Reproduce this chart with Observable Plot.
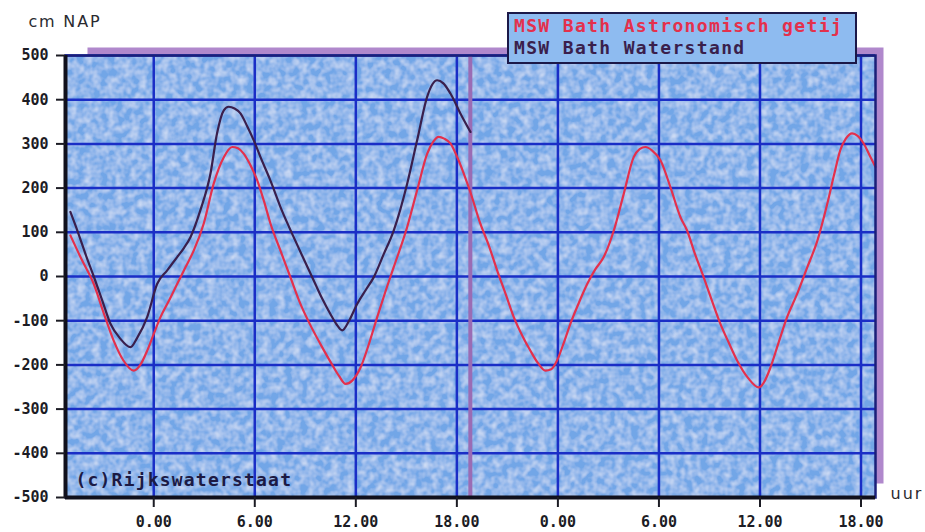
<!DOCTYPE html>
<html>
<head>
<meta charset="utf-8">
<script src="https://cdn.jsdelivr.net/npm/d3@7"></script>
<script src="https://cdn.jsdelivr.net/npm/@observablehq/plot@0.6"></script>
<style>
  body { margin: 0; background: #ffffff; }
  #wrap { position: relative; width: 925px; height: 532px; }
  #legend {
    position: absolute; left: 507px; top: 12px; width: 341px; height: 47px;
    background: #8ebbf0; border: 2px solid #1b1848;
    font: bold 18px "DejaVu Sans Mono", monospace; letter-spacing: 1.35px;
    line-height: 22px; padding: 1px 0 0 5px; box-sizing: content-box;
  }
  #legend .a { color: #e4304c; }
  #legend .w { color: #3a1f4c; }
</style>
</head>
<body>
<div id="wrap"></div>
<script>
// Tick positions (hours since first midnight) and labels
const xTicks = [0, 6, 12, 18, 24, 30, 36, 42];
const xTickLabels = ["0.00", "6.00", "12.00", "18.00", "0.00", "6.00", "12.00", "18.00"];
const yTicks = [-500, -400, -300, -200, -100, 0, 100, 200, 300, 400, 500];
const xDomain = [-5.24, 42.86];
const nowHour = 18.8;

const seriesNames = ["MSW Bath Astronomisch getij", "MSW Bath Waterstand"];

// Astronomical tide (cm NAP)
const astroHours = [-4.95,-4.3,-3.56,-2.95,-2.38,-1.8,-1.19,-0.8,-0.39,0.0,0.4,0.9,1.39,1.9,2.38,2.97,3.56,4.16,4.66,5.0,5.34,5.7,6.14,6.55,6.93,7.52,8.1,8.71,9.3,9.9,10.6,11.0,11.39,11.8,12.28,12.8,13.27,13.75,14.25,15.05,15.64,16.24,16.6,16.92,17.25,17.62,18.0,18.41,18.81,19.39,19.9,20.39,20.9,21.38,21.9,22.37,22.8,23.26,23.6,23.95,24.35,24.74,25.24,25.74,26.2,26.72,27.32,27.91,28.5,28.85,29.2,29.6,30.09,30.7,31.28,31.67,32.15,32.66,33.15,33.65,34.15,34.64,35.3,35.93,36.3,36.62,37.1,37.61,38.2,38.8,39.4,40.0,40.4,40.77,41.1,41.47,41.8,42.16,42.5,42.86];
const astroValues = [93,40,-17,-85,-145,-190,-213,-200,-168,-130,-92,-55,-17,22,59,120,210,270,293,290,278,255,218,170,120,59,0,-62,-110,-153,-200,-225,-243,-235,-206,-150,-92,-35,21,112,195,278,305,316,312,301,272,233,190,120,70,14,-40,-92,-135,-168,-195,-213,-210,-190,-150,-107,-60,-17,15,44,104,187,270,288,293,285,263,200,134,104,50,-2,-55,-107,-150,-190,-230,-251,-235,-206,-150,-92,-40,20,80,165,230,286,312,324,318,301,275,248];

// Measured water level (cm NAP)
const waterHours = [-4.95,-4.5,-4.0,-3.56,-3.05,-2.57,-2.0,-1.38,-1.0,-0.39,0.2,0.8,1.39,1.8,2.18,2.77,3.37,3.76,4.16,4.45,4.8,5.15,5.55,5.94,6.34,6.93,7.6,8.31,8.9,9.5,10.0,10.49,10.85,11.19,11.6,12.08,12.6,13.06,13.65,14.25,15.05,15.64,16.24,16.55,16.83,17.2,17.62,18.21,18.81];
const waterValues = [146,100,45,0,-55,-107,-140,-160,-140,-92,-17,14,44,65,89,150,233,324,376,384,380,369,340,308,270,217,150,89,40,-9,-50,-85,-108,-122,-100,-62,-30,-2,50,104,210,308,407,435,444,437,414,369,327];

const astro = astroHours.map((h, i) => ({hour: h, value: astroValues[i]}));
const water = waterHours.map((h, i) => ({hour: h, value: waterValues[i]}));

const gridColor = "#1a2ec6";

const plot = Plot.plot({
  width: 925,
  height: 532,
  marginLeft: 65,
  marginRight: 50,
  marginTop: 55,
  marginBottom: 35,
  x: {domain: xDomain},
  y: {domain: [-500, 500]},
  style: {fontFamily: "'DejaVu Sans Mono', monospace", fontWeight: "bold", fontSize: "15px", color: "#1c1c24", background: "transparent"},
  marks: [
    // shadow behind the plotting area
    Plot.frame({fill: "#b088cc", dx: 8, dy: -8, insetLeft: 14, insetBottom: 6}),
    Plot.frame({fill: "#72a6e7", ariaLabel: "bg"}),
    Plot.gridX(xTicks, {stroke: gridColor, strokeOpacity: 1, strokeWidth: 2.5}),
    Plot.gridY(yTicks, {stroke: gridColor, strokeOpacity: 1, strokeWidth: 2.5}),
    Plot.ruleX([nowHour], {stroke: "#9a6cb4", strokeWidth: 4}),
    Plot.line(astro, {x: "hour", y: "value", stroke: "#e4304c", strokeWidth: 2.2, curve: "monotone-x"}),
    Plot.line(water, {x: "hour", y: "value", stroke: "#3a1f4c", strokeWidth: 2.2, curve: "monotone-x"}),
    Plot.frame({stroke: "#1a1f78", strokeWidth: 2.5}),
    Plot.ruleX([xDomain[0]], {stroke: "#10101c", strokeWidth: 4}),
    Plot.ruleY([-500], {stroke: "#10101c", strokeWidth: 4}),
    Plot.axisX(xTicks, {tickSize: 10, tickPadding: 9, strokeWidth: 2, tickFormat: d => xTickLabels[xTicks.indexOf(d)], label: null}),
    Plot.axisY(yTicks, {tickSize: 9, tickPadding: 8, strokeWidth: 2, tickFormat: d => String(d), label: null}),
    Plot.text(["cm NAP"], {frameAnchor: "top-left", dx: -37, dy: -34, lineAnchor: "middle", textAnchor: "start", fontFamily: "'DejaVu Sans', sans-serif", fontWeight: "normal", fontSize: 16, fill: "#2a2a30"}),
    Plot.text(["uur"], {frameAnchor: "bottom-right", dx: 15, dy: -4, lineAnchor: "middle", textAnchor: "start", fontFamily: "'DejaVu Sans', sans-serif", fontWeight: "normal", fontSize: 16, fill: "#2a2a30"}),
    Plot.text(["(c)Rijkswaterstaat"], {frameAnchor: "bottom-left", dx: 10, dy: -17, lineAnchor: "middle", textAnchor: "start", fontSize: 18, fontWeight: "bold", fill: "#1c1a44"})
  ]
});

const svg = d3.select(plot);
const byText = t => svg.selectAll("text").filter(function () { return this.textContent === t; });
byText("(c)Rijkswaterstaat").style("letter-spacing", "1.2px");
byText("cm NAP").style("letter-spacing", "1.8px");
byText("uur").style("letter-spacing", "2px");

// soft mottled paper texture on the plotting area background
const defs = svg.insert("defs", ":first-child");
const f = defs.append("filter").attr("id", "mottle").attr("x", 0).attr("y", 0).attr("width", 1).attr("height", 1);
f.append("feTurbulence").attr("type", "fractalNoise").attr("baseFrequency", 0.13).attr("numOctaves", 2).attr("seed", 4).attr("result", "n");
f.append("feColorMatrix").attr("in", "n").attr("type", "matrix")
  .attr("values", "0 0 0 0 1  0 0 0 0 1  0 0 0 0 1  0.9 0 0 0 -0.3").attr("result", "w");
f.append("feComposite").attr("in", "w").attr("in2", "SourceGraphic").attr("operator", "in").attr("result", "wm");
const m = f.append("feMerge");
m.append("feMergeNode").attr("in", "SourceGraphic");
m.append("feMergeNode").attr("in", "wm");
svg.selectAll('g[aria-label="bg"] rect, rect[aria-label="bg"]').attr("filter", "url(#mottle)");

const wrap = document.getElementById("wrap");
wrap.appendChild(plot);
const legend = document.createElement("div");
legend.id = "legend";
legend.innerHTML = `<div class="a">${seriesNames[0]}</div><div class="w">${seriesNames[1]}</div>`;
wrap.appendChild(legend);
</script>
</body>
</html>
